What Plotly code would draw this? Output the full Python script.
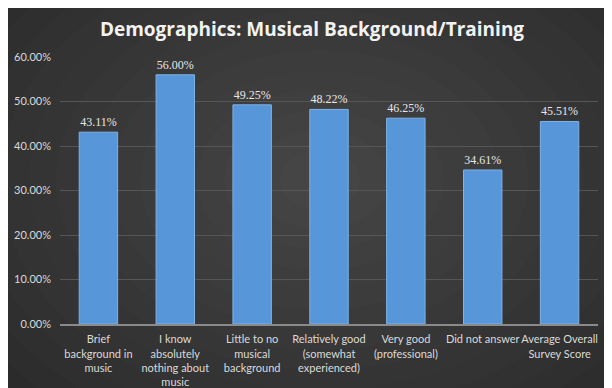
import plotly.graph_objects as go

categories = [
    "Brief<br>background in<br>music",
    "I know<br>absolutely<br>nothing about<br>music",
    "Little to no<br>musical<br>background",
    "Relatively good<br>(somewhat<br>experienced)",
    "Very good<br>(professional)",
    "Did not answer",
    "Average Overall<br>Survey Score",
]
values = [43.11, 56.00, 49.25, 48.22, 46.25, 34.61, 45.51]
tick_vals = [0, 10, 20, 30, 40, 50, 60]
tick_text = ["0.00%", "10.00%", "20.00%", "30.00%", "40.00%", "50.00%", "60.00%"]

W, H = 612, 388
OFF = 8  # page body offset
L, R, T, B = 60 - OFF, 22, 57 - OFF, 72
pw, ph = W - L - R, H - T - B

def px(x):
    return (x - OFF - L) / pw

def py(y):
    return (H - B - (y - OFF)) / ph

fig = go.Figure()
fig.add_trace(go.Bar(
    x=categories, y=values,
    marker=dict(color="#5796d9", line=dict(color="#7fb2e8", width=1)),
    texttemplate="%{y:.2f}%", textposition="outside",
    textfont=dict(family="Liberation Serif", size=12, color="#e6e6e6"),
    cliponaxis=False, width=0.5,
))

shapes = []
n = 16
for i in range(n):
    f = i / (n - 1)
    rx = 420 * (1 - f) + 40
    ry = 300 * (1 - f) + 30
    cx, cy = 320, 180
    g = int(0x2a + (0x45 - 0x2a) * f)
    col = "#%02x%02x%02x" % (g, g, g)
    shapes.append(dict(type="circle", xref="paper", yref="paper",
                       x0=px(cx - rx), x1=px(cx + rx), y0=py(cy + ry), y1=py(cy - ry),
                       fillcolor=col, line=dict(width=0), layer="below"))

fig.update_layout(
    width=W, height=H,
    margin=dict(l=L, r=R, t=T, b=B, autoexpand=False),
    paper_bgcolor="#2a2a2a",
    plot_bgcolor="rgba(0,0,0,0)",
    shapes=shapes,
    title=dict(text="<b>Demographics: Musical Background/Training</b>",
               x=(312 - OFF) / W, xanchor="center",
               y=1 - (29 - OFF) / H, yanchor="middle",
               font=dict(family="Open Sans", size=19, color="#f2f2f2")),
    showlegend=False,
    bargap=0.5,
    xaxis=dict(showgrid=False, showline=True, linecolor="#8a8a8a", linewidth=2,
               tickfont=dict(family="Lato", size=11, color="#dadada"),
               ticks="", tickangle=0, fixedrange=True, ticklabelstandoff=4,
               automargin=False),
    yaxis=dict(range=[0, 60], tickvals=tick_vals, ticktext=tick_text,
               showgrid=True, gridcolor="#565656", gridwidth=1, zeroline=False,
               showline=False, tickfont=dict(family="Lato", size=11, color="#dadada"),
               ticks="", ticklen=0, ticklabelstandoff=8, automargin=False),
    font=dict(family="Lato"),
)
fig.write_html("out.html")
